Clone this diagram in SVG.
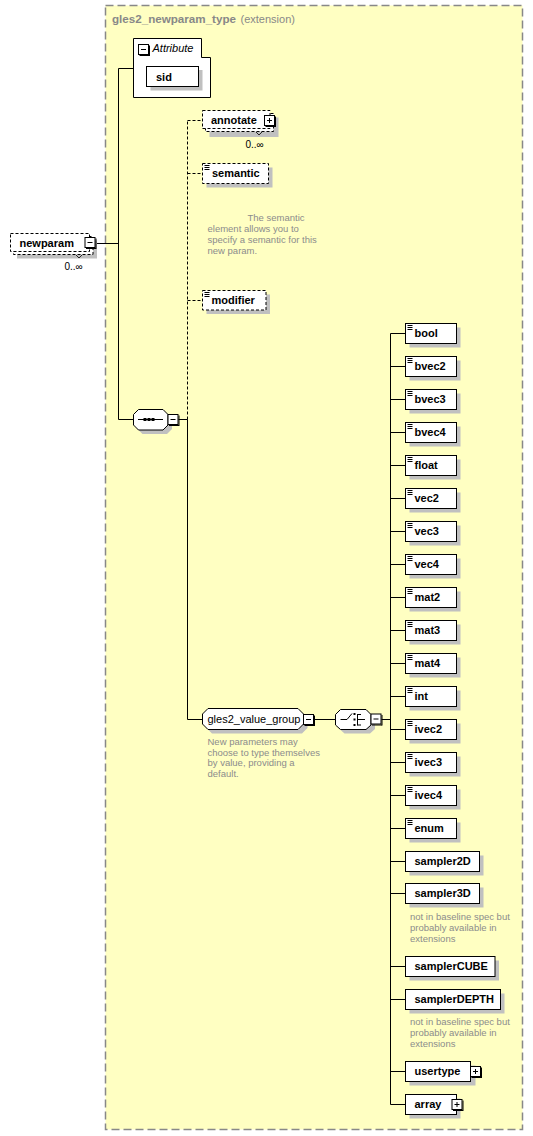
<svg xmlns="http://www.w3.org/2000/svg" xmlns:xlink="http://www.w3.org/1999/xlink" width="533" height="1136" viewBox="0 0 533 1136">
<style>
.box{fill:#fff;stroke:#000;stroke-width:1}
.dbox{fill:#fff;stroke:#000;stroke-width:1;stroke-dasharray:3 2}
.sh{fill:#c0c0c0}
.lbl{font-family:"Liberation Sans",Arial,sans-serif;font-weight:bold;font-size:11px;fill:#000}
.nrm{font-family:"Liberation Sans",Arial,sans-serif;font-size:11px;fill:#000}
.ann{font-family:"Liberation Sans",Arial,sans-serif;font-size:9.5px;fill:#8c8c8c}
.occ{font-family:"Liberation Sans",Arial,sans-serif;font-size:10px;fill:#000}
.ln{stroke:#000;stroke-width:1;fill:none}
.dln{stroke:#000;stroke-width:1;stroke-dasharray:3 2;fill:none}
.pm{fill:#fff;stroke:#000;stroke-width:1}
</style>
<defs>
<path id="ico" d="M0 .5h5M0 2.5h5M0 4.5h5" stroke="#000" stroke-width="1" fill="none"/>
<g id="minus"><rect class="pm" x="0.5" y="0.5" width="10" height="10"/><path d="M11.5 1.5v10.5M1.5 11.5h10" stroke="#000"/><path d="M3 5.5h5" stroke="#000"/></g>
<g id="plus"><rect class="pm" x="0.5" y="0.5" width="10" height="10"/><path d="M11.5 1.5v10.5M1.5 11.5h10" stroke="#000"/><path d="M3 5.5h5M5.5 3v5" stroke="#000"/></g>
</defs>

<!-- frame -->
<g id="frame">
<rect x="105.5" y="5.5" width="417" height="1124" fill="#ffffc2" stroke="#888" stroke-width="1.5" stroke-dasharray="8 4"/>
<text x="112" y="23" font-family="Liberation Sans,Arial,sans-serif" font-size="11.5" font-weight="bold" fill="#888" textLength="124" lengthAdjust="spacingAndGlyphs">gles2_newparam_type</text>
<text x="240.5" y="23" font-family="Liberation Sans,Arial,sans-serif" font-size="11" fill="#888">(extension)</text>
</g>

<!-- connectors -->
<g id="connectors">
<path class="ln" d="M96 243.5H118.5M118.5 68.5V419.5M118.5 68.5H133.5M118.5 419.5H133.5"/>
<path class="ln" d="M178.5 419.5H187.5V719.5H202.5"/>
<path class="dln" d="M187.5 419.5V120.5M187.5 120.5H202.5M187.5 173.5H202.5M187.5 300.5H202.5"/>
<path class="ln" d="M314 719.5H335.5M381.5 719.5H390.5"/>
<path class="ln" d="M390.5 333.5V1104.5"/>
<path class="ln" d="M390.5 333.5H405.5M390.5 366.5H405.5M390.5 399.5H405.5M390.5 432.5H405.5M390.5 465.5H405.5M390.5 498.5H405.5M390.5 531.5H405.5M390.5 564.5H405.5M390.5 597.5H405.5M390.5 630.5H405.5M390.5 663.5H405.5M390.5 696.5H405.5M390.5 729.5H405.5M390.5 762.5H405.5M390.5 795.5H405.5M390.5 828.5H405.5M390.5 861.5H405.5M390.5 893.5H405.5M390.5 966.5H405.5M390.5 999.5H405.5M390.5 1071.5H405.5M390.5 1104.5H405.5"/>
</g>

<!-- newparam -->
<g id="newparam">
<rect class="sh" x="17" y="240.5" width="80" height="18"/>
<rect class="dbox" x="13.5" y="236.5" width="79.5" height="18"/>
<rect class="dbox" x="10.5" y="233.5" width="79" height="18"/>
<text class="lbl" x="19.5" y="246.5">newparam</text>
<use href="#minus" x="84.5" y="237"/>
<path d="M76 255l3 3 3-3" stroke="#000" fill="none" stroke-width="0.8"/>
<text class="occ" x="64.5" y="270">0..∞</text>
</g>

<!-- attributes -->
<g id="attributes">
<path class="box" d="M133.5 38.5H201.5V57.5H210.5V97.5H133.5Z"/>
<use href="#minus" x="138" y="44"/>
<text x="152.5" y="52" font-family="Liberation Sans,Arial,sans-serif" font-size="11" font-style="italic" fill="#000">Attribute</text>
<g id="sid">
<rect class="sh" x="150.5" y="70" width="52" height="20.5"/>
<rect class="box" x="146.5" y="66.5" width="52" height="20"/>
<text class="lbl" x="156" y="80.5">sid</text>
</g>
</g>

<!-- sequence -->
<g id="sequence">
<path class="sh" d="M142.5 413.5H167L172 418.5V429L167 434H142.5L137.5 429V418.5Z"/>
<path class="box" d="M138.5 409.5H163L168 414.5V425L163 430H138.5L133.5 425V414.5Z"/>
<path d="M138 419.5H163" stroke="#000"/>
<rect x="143.5" y="418" width="3" height="3" fill="#000"/>
<rect x="147.5" y="418" width="3" height="3" fill="#000"/>
<rect x="151.5" y="418" width="3" height="3" fill="#000"/>
<use href="#minus" x="167.5" y="414"/>
</g>

<!-- annotate -->
<g id="annotate">
<rect class="sh" x="209.5" y="117.5" width="69" height="19.5"/>
<rect class="dbox" x="205.5" y="113.5" width="68" height="18"/>
<rect class="dbox" x="202.5" y="110.5" width="67.5" height="18"/>
<text class="lbl" x="211" y="124">annotate</text>
<use href="#plus" x="264" y="115"/>
<path d="M256 132l3 3 3-3" stroke="#000" fill="none" stroke-width="0.8"/>
<text class="occ" x="245.5" y="148">0..∞</text>
</g>

<!-- semantic -->
<g id="semantic">
<rect class="sh" x="206.5" y="167.5" width="66" height="20"/>
<rect class="dbox" x="202.5" y="163.5" width="66" height="20"/>
<use href="#ico" x="204.5" y="165"/>
<text class="lbl" x="212" y="177">semantic</text>
<text class="ann" x="247.5" y="220.5">The semantic</text>
<text class="ann" x="207.5" y="231.5">element allows you to</text>
<text class="ann" x="207.5" y="242.5">specify a semantic for this</text>
<text class="ann" x="207.5" y="253.5">new param.</text>
</g>

<!-- modifier -->
<g id="modifier">
<rect class="sh" x="206.5" y="294.5" width="63.5" height="19.5"/>
<rect class="dbox" x="202.5" y="290.5" width="63.5" height="19.5"/>
<use href="#ico" x="204.5" y="292"/>
<text class="lbl" x="211.5" y="304">modifier</text>
</g>

<!-- gles2_value_group -->
<g id="gles2_value_group">
<path class="sh" d="M212 712.5H302L307.5 718V728L302 733.5H212L206.5 728V718Z"/>
<path class="box" d="M208 708.5H298L303.5 714V724L298 729.5H208L202.5 724V714Z"/>
<text class="nrm" x="207.5" y="722.5">gles2_value_group</text>
<use href="#minus" x="303" y="714"/>
<text class="ann" x="207.5" y="744.5">New parameters may</text>
<text class="ann" x="207.5" y="755.5">choose to type themselves</text>
<text class="ann" x="207.5" y="766">by value, providing a</text>
<text class="ann" x="207.5" y="777">default.</text>
</g>

<!-- choice -->
<g id="choice">
<path class="sh" d="M344.5 713.5H370L375 718.5V729L370 733.5H344.5L339.5 729V718.5Z"/>
<path class="box" d="M340.5 709.5H366L371 714.5V725L366 729.5H340.5L335.5 725V714.5Z"/>
<path d="M340.5 719.5H347L352 713.5M357.5 714V725.5M357.5 714.5H361M357.5 719.5H365M357.5 725H361" stroke="#000" fill="none"/>
<rect x="353.5" y="713" width="2" height="2" fill="#000"/>
<rect x="353.5" y="718.5" width="2" height="2" fill="#000"/>
<rect x="353.5" y="724" width="2" height="2" fill="#000"/>
<use href="#minus" x="370.5" y="713.5"/>
</g>

<!-- choice items -->
<g id="bool"><rect class="sh" x="409.5" y="327.5" width="51" height="20"/><rect class="box" x="405.5" y="323.5" width="51" height="20"/><use href="#ico" x="407.5" y="325"/><text class="lbl" x="414.5" y="337">bool</text></g>
<g id="bvec2"><rect class="sh" x="409.5" y="360.5" width="51" height="20"/><rect class="box" x="405.5" y="356.5" width="51" height="20"/><use href="#ico" x="407.5" y="358"/><text class="lbl" x="414.5" y="370">bvec2</text></g>
<g id="bvec3"><rect class="sh" x="409.5" y="393.5" width="51" height="20"/><rect class="box" x="405.5" y="389.5" width="51" height="20"/><use href="#ico" x="407.5" y="391"/><text class="lbl" x="414.5" y="403">bvec3</text></g>
<g id="bvec4"><rect class="sh" x="409.5" y="426.5" width="51" height="20"/><rect class="box" x="405.5" y="422.5" width="51" height="20"/><use href="#ico" x="407.5" y="424"/><text class="lbl" x="414.5" y="436">bvec4</text></g>
<g id="float"><rect class="sh" x="409.5" y="459.5" width="51" height="20"/><rect class="box" x="405.5" y="455.5" width="51" height="20"/><use href="#ico" x="407.5" y="457"/><text class="lbl" x="414.5" y="469">float</text></g>
<g id="vec2"><rect class="sh" x="409.5" y="492.5" width="51" height="20"/><rect class="box" x="405.5" y="488.5" width="51" height="20"/><use href="#ico" x="407.5" y="490"/><text class="lbl" x="414.5" y="502">vec2</text></g>
<g id="vec3"><rect class="sh" x="409.5" y="525.5" width="51" height="20"/><rect class="box" x="405.5" y="521.5" width="51" height="20"/><use href="#ico" x="407.5" y="523"/><text class="lbl" x="414.5" y="535">vec3</text></g>
<g id="vec4"><rect class="sh" x="409.5" y="558.5" width="51" height="20"/><rect class="box" x="405.5" y="554.5" width="51" height="20"/><use href="#ico" x="407.5" y="556"/><text class="lbl" x="414.5" y="568">vec4</text></g>
<g id="mat2"><rect class="sh" x="409.5" y="591.5" width="51" height="20"/><rect class="box" x="405.5" y="587.5" width="51" height="20"/><use href="#ico" x="407.5" y="589"/><text class="lbl" x="414.5" y="601">mat2</text></g>
<g id="mat3"><rect class="sh" x="409.5" y="624.5" width="51" height="20"/><rect class="box" x="405.5" y="620.5" width="51" height="20"/><use href="#ico" x="407.5" y="622"/><text class="lbl" x="414.5" y="634">mat3</text></g>
<g id="mat4"><rect class="sh" x="409.5" y="657.5" width="51" height="20"/><rect class="box" x="405.5" y="653.5" width="51" height="20"/><use href="#ico" x="407.5" y="655"/><text class="lbl" x="414.5" y="667">mat4</text></g>
<g id="int"><rect class="sh" x="409.5" y="690.5" width="51" height="20"/><rect class="box" x="405.5" y="686.5" width="51" height="20"/><use href="#ico" x="407.5" y="688"/><text class="lbl" x="414.5" y="700">int</text></g>
<g id="ivec2"><rect class="sh" x="409.5" y="723.5" width="51" height="20"/><rect class="box" x="405.5" y="719.5" width="51" height="20"/><use href="#ico" x="407.5" y="721"/><text class="lbl" x="414.5" y="733">ivec2</text></g>
<g id="ivec3"><rect class="sh" x="409.5" y="756.5" width="51" height="20"/><rect class="box" x="405.5" y="752.5" width="51" height="20"/><use href="#ico" x="407.5" y="754"/><text class="lbl" x="414.5" y="766">ivec3</text></g>
<g id="ivec4"><rect class="sh" x="409.5" y="789.5" width="51" height="20"/><rect class="box" x="405.5" y="785.5" width="51" height="20"/><use href="#ico" x="407.5" y="787"/><text class="lbl" x="414.5" y="799">ivec4</text></g>
<g id="enum"><rect class="sh" x="409.5" y="822.5" width="51" height="20"/><rect class="box" x="405.5" y="818.5" width="51" height="20"/><use href="#ico" x="407.5" y="820"/><text class="lbl" x="414.5" y="832">enum</text></g>
<g id="sampler2D"><rect class="sh" x="409.5" y="855.5" width="74" height="20"/><rect class="box" x="405.5" y="851.5" width="74" height="20"/><text class="lbl" x="414.5" y="865">sampler2D</text></g>
<g id="sampler3D"><rect class="sh" x="409.5" y="887.5" width="74" height="20"/><rect class="box" x="405.5" y="883.5" width="74" height="20"/><text class="lbl" x="414.5" y="897">sampler3D</text>
<text class="ann" x="410" y="920">not in baseline spec but</text>
<text class="ann" x="410" y="931">probably available in</text>
<text class="ann" x="410" y="942">extensions</text></g>
<g id="samplerCUBE"><rect class="sh" x="409.5" y="960.5" width="89.5" height="20"/><rect class="box" x="405.5" y="956.5" width="89.5" height="20"/><text class="lbl" x="414.5" y="970">samplerCUBE</text></g>
<g id="samplerDEPTH"><rect class="sh" x="409.5" y="993.5" width="95" height="20"/><rect class="box" x="405.5" y="989.5" width="95" height="20"/><text class="lbl" x="414.5" y="1003">samplerDEPTH</text>
<text class="ann" x="410" y="1025">not in baseline spec but</text>
<text class="ann" x="410" y="1036">probably available in</text>
<text class="ann" x="410" y="1047">extensions</text></g>
<g id="usertype"><rect class="sh" x="409.5" y="1065.5" width="66" height="20"/><rect class="box" x="405.5" y="1061.5" width="65" height="20"/><text class="lbl" x="414.5" y="1075">usertype</text><use href="#plus" x="470" y="1066"/></g>
<g id="array"><rect class="sh" x="409.5" y="1098.5" width="51" height="20"/><rect class="box" x="405.5" y="1094.5" width="51" height="20"/><text class="lbl" x="414.5" y="1108">array</text><use href="#plus" x="451.5" y="1099"/></g>
</svg>
